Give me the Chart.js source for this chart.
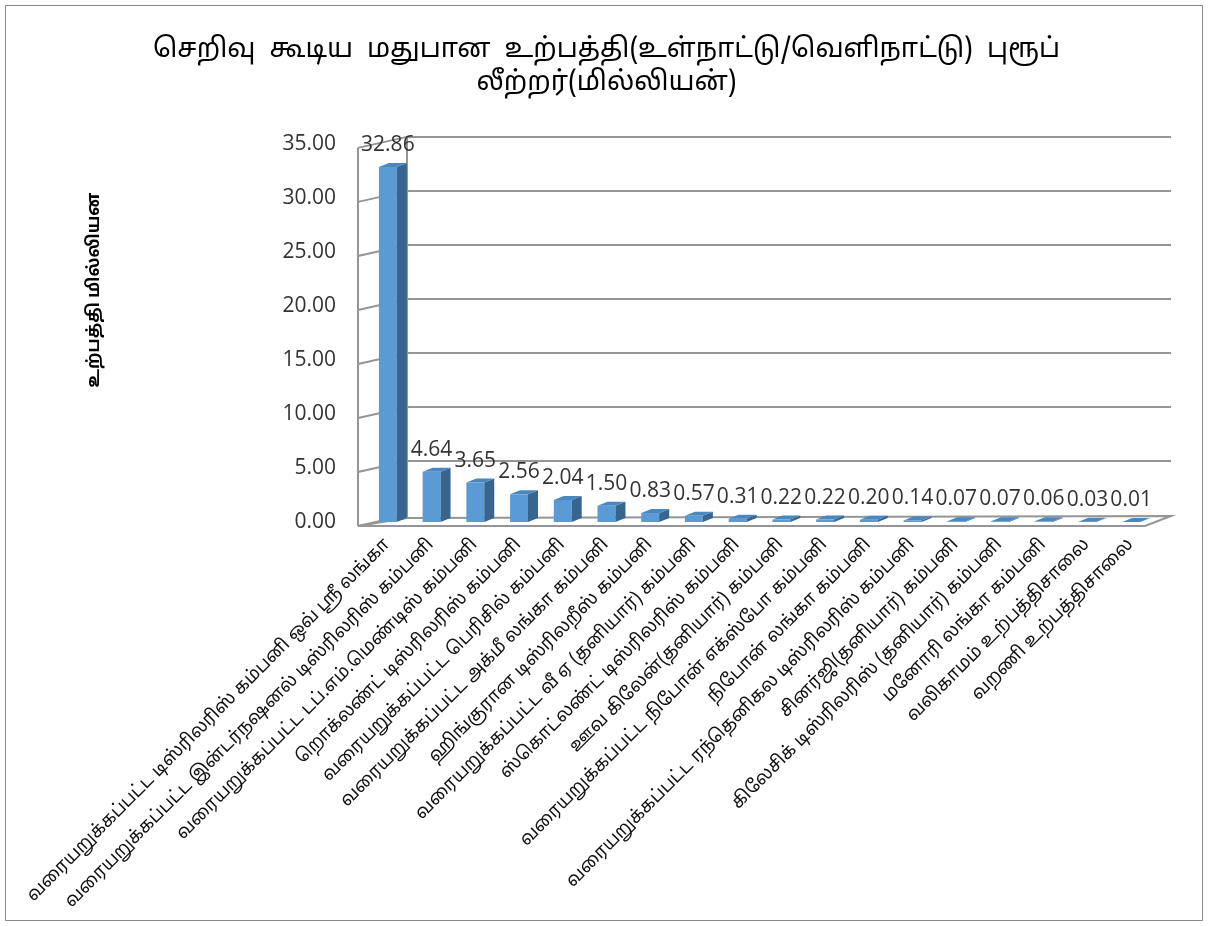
<!DOCTYPE html>
<html>
<head>
<meta charset="utf-8">
<script src="https://cdn.jsdelivr.net/npm/chart.js@4.4.1/dist/chart.umd.min.js"></script>
<style>
    html, body { margin: 0; padding: 0; background: #fff; }
    #wrap { width: 1209px; height: 926px; }
</style>
</head>
<body>
<div id="wrap"><canvas id="prod_chart" width="1209" height="926"></canvas></div>
<script>
var company_names = [
    "வரையறுக்கப்பட்ட டிஸ்ரிலரிஸ் கம்பனி ஒவ் ஸ்ரீ லங்கா",
    "வரையறுக்கப்பட்ட இன்டர்நஷனல் டிஸ்ரிலரிஸ் கம்பனி",
    "வரையறுக்கப்பட்ட டப்.எம்.மெண்டிஸ் கம்பனி",
    "றொக்லண்ட் டிஸ்ரிலரிஸ் கம்பனி",
    "வரையறுக்கப்பட்ட பெரிசில் கம்பனி",
    "வரையறுக்கப்பட்ட அக்மீ லங்கா கம்பனி",
    "ஹிங்குரான டிஸ்ரிலறீஸ் கம்பனி",
    "வரையறுக்கப்பட்ட வீ ஏ (தனியார்) கம்பனி",
    "ஸ்கொட்லண்ட் டிஸ்ரிலரிஸ் கம்பனி",
    "ஊவ கிலேன்(தனியார்) கம்பனி",
    "வரையறுக்கப்பட்ட நிபோன் எக்ஸ்போ கம்பனி",
    "நிபோன் லங்கா கம்பனி",
    "வரையறுக்கப்பட்ட ரந்தெனிகல டிஸ்ரிலரிஸ் கம்பனி",
    "சினர்ஜி(தனியார்) கம்பனி",
    "கிலேசிக் டிஸ்ரிலரிஸ் (தனியார்) கம்பனி",
    "மனோரி லங்கா கம்பனி",
    "வலிகாமம் உற்பத்திசாலை",
    "வறணி உற்பத்திசாலை"
];
var production = [32.86, 4.64, 3.65, 2.56, 2.04, 1.50, 0.83, 0.57, 0.31, 0.22, 0.22, 0.20, 0.14, 0.07, 0.07, 0.06, 0.03, 0.01];
var y_ticks = [0, 5, 10, 15, 20, 25, 30, 35];

var chart_title = ["செறிவு  கூடிய  மதுபான  உற்பத்தி(உள்நாட்டு/வெளிநாட்டு)  புரூப்", "லீற்றர்(மில்லியன்)"];
var y_title = "உற்பத்தி மில்லியன";

var tamil_font = "'Noto Sans Tamil', 'Lohit Tamil', 'Latha', 'Noto Sans', sans-serif";
var num_font = "'Open Sans', 'Liberation Sans', sans-serif";

// walls, floor and gridlines drawn with a fake depth
var walls = {
    id: "walls",
    beforeDraw: function(chart) {
        var c = chart.ctx;
        c.save();
        c.fillStyle = "#fff";
        c.fillRect(0, 0, chart.width, chart.height);
        c.strokeStyle = "#8a8a8a";
        c.lineWidth = 1;
        c.strokeRect(5.5, 5.5, chart.width - 12, chart.height - 11);
        // y axis title, placed like the original
        c.translate(96, 290);
        c.rotate(-Math.PI / 2);
        c.fillStyle = "#000";
        c.font = "bold 17px " + tamil_font;
        c.textAlign = "center";
        c.textBaseline = "middle";
        c.fillText(y_title, 0, 0);
        c.restore();
    },
    beforeDatasetsDraw: function(chart) {
        var c = chart.ctx, a = chart.chartArea, y = chart.scales.y;
        var fx = a.left - 8, bx = a.left + 41, rx = a.right + 18;
        c.save();
        c.strokeStyle = "#959595";
        c.lineWidth = 2;
        // floor
        var y0 = y.getPixelForValue(0);
        c.beginPath();
        c.moveTo(fx, y0 + 4);
        c.lineTo(a.right - 8, y0 + 4);
        c.lineTo(rx, y0 - 6);
        c.lineTo(bx, y0 - 4);
        c.closePath();
        c.fillStyle = "#fff";
        c.fill();
        c.stroke();
        y_ticks.forEach(function(v) {
            var p = y.getPixelForValue(v);
            c.beginPath();
            c.moveTo(fx, p + 4);
            c.lineTo(bx, p - 7);
            if (v > 0) c.lineTo(rx, p - 7);
            c.stroke();
        });
        // front and back verticals
        c.beginPath();
        c.moveTo(fx, y.getPixelForValue(35) + 4);
        c.lineTo(fx, y0 + 4);
        c.moveTo(bx, y.getPixelForValue(35) - 7);
        c.lineTo(bx, y0 - 4);
        c.stroke();
        c.restore();
    },
    afterDatasetsDraw: function(chart) {
        var c = chart.ctx;
        var bars = chart.getDatasetMeta(0).data;
        c.save();
        bars.forEach(function(b, i) {
            var half = b.width / 2, r = b.x + half, l = b.x - half;
            var dx = 10, dy = 4;
            // side face
            c.fillStyle = "#386590";
            c.beginPath();
            c.moveTo(r, b.y);
            c.lineTo(r + dx, b.y - dy);
            c.lineTo(r + dx, b.base - dy);
            c.lineTo(r, b.base);
            c.closePath();
            c.fill();
            // top face
            c.fillStyle = "#4a86bf";
            c.beginPath();
            c.moveTo(l, b.y);
            c.lineTo(l + dx, b.y - dy);
            c.lineTo(r + dx, b.y - dy);
            c.lineTo(r, b.y);
            c.closePath();
            c.fill();
        });
        // value labels
        c.fillStyle = "#333";
        c.font = "21px " + num_font;
        c.textAlign = "center";
        c.textBaseline = "middle";
        bars.forEach(function(b, i) {
            c.fillText(production[i].toFixed(2), b.x, b.y - 22);
        });
        c.restore();
    }
};

var prod_config = {
    type: "bar",
    data: {
        labels: company_names,
        datasets: [{
            label: "உற்பத்தி",
            data: production,
            backgroundColor: "#5b9bd5",
            borderWidth: 0,
            categoryPercentage: 1,
            barPercentage: 0.41
        }]
    },
    options: {
        responsive: false,
        animation: false,
        layout: {
            padding: { top: 8, left: 60, right: 56, bottom: 14 }
        },
        plugins: {
            legend: { display: false },
            tooltip: { enabled: false },
            title: {
                display: true,
                text: chart_title,
                color: "#000",
                font: { family: tamil_font, size: 27, weight: "normal", lineHeight: 1.22 },
                padding: { top: 27, bottom: 43 }
            }
        },
        scales: {
            x: {
                grid: { display: false, drawTicks: false },
                border: { display: false },
                ticks: {
                    autoSkip: false,
                    maxRotation: 45,
                    minRotation: 45,
                    padding: 13,
                    color: "#111",
                    font: { family: tamil_font, size: 18 }
                },
                afterFit: function(s) {
                    s.height = 390;
                    s.paddingLeft = 0;
                    s.paddingRight = 0;
                }
            },
            y: {
                min: 0,
                max: 35,
                grid: { display: false, drawTicks: false },
                border: { display: false },
                ticks: {
                    stepSize: 5,
                    padding: 30,
                    color: "#333",
                    font: { family: num_font, size: 21 },
                    callback: function(v) { return v.toFixed(2); }
                },
                afterFit: function(s) {
                    s.width = 306;
                    s.paddingTop = 0;
                    s.paddingBottom = 0;
                }
            }
        }
    },
    plugins: [walls]
};

var prod_chart = new Chart(document.getElementById("prod_chart").getContext("2d"), prod_config);
</script>
</body>
</html>
